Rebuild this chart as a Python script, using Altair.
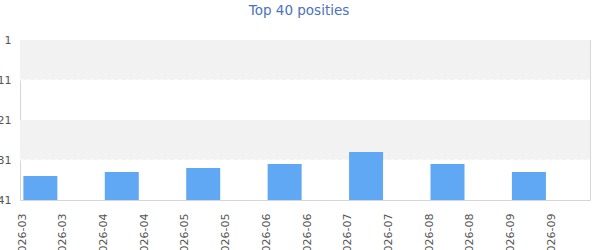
import altair as alt
import pandas as pd

# data
periods = ["2026-03", "2026-04", "2026-05", "2026-06", "2026-07", "2026-08", "2026-09"]
ranks = [35, 34, 33, 32, 29, 32, 34]
tick_labels = ["2026-03", "2026-03", "2026-04", "2026-04", "2026-05", "2026-05",
               "2026-06", "2026-06", "2026-07", "2026-07", "2026-08", "2026-08",
               "2026-09", "2026-09"]
y_ticks = [1, 11, 21, 31, 41]
band_starts = [1, 21]
band_ends = [11, 31]
dash_lines = [11, 31]

bars = pd.DataFrame({
    "period": periods,
    "rank": ranks,
    "pos": [2 * i + 0.5 for i in range(len(periods))],
    "base": [41] * len(periods),
})
bands = pd.DataFrame({"y": band_starts, "y2": band_ends})
dashes = pd.DataFrame({"y": dash_lines})
label_expr = "[" + ",".join(f"'{t}'" for t in tick_labels) + "][datum.value]"

xscale = alt.Scale(domain=[0, 14], nice=False, zero=False, padding=0)
yscale = alt.Scale(domain=[1, 41], reverse=True, nice=False, zero=False, padding=0)

yaxis = alt.Axis(values=y_ticks, title=None, grid=False, ticks=False, domain=False,
                 labelColor="#555555", labelFontSize=11, labelFont="DejaVu Sans",
                 labelPadding=9, labelOverlap=False, labelFlush=False, labelBound=False)

band_layer = alt.Chart(bands).mark_rect(color="#f2f2f2").encode(
    x=alt.value(0), x2=alt.value(570),
    y=alt.Y("y:Q", scale=yscale, axis=yaxis),
    y2="y2:Q",
)

dash_layer = alt.Chart(dashes).mark_rule(color="white", strokeDash=[4, 3], strokeWidth=1).encode(
    x=alt.value(0), x2=alt.value(570),
    y=alt.Y("y:Q", scale=yscale, axis=yaxis),
)

bar_layer = alt.Chart(bars).mark_bar(color="#60a8f4", width=34).encode(
    x=alt.X("pos:Q", scale=xscale,
            axis=alt.Axis(values=list(range(14)), labelExpr=label_expr, title=None,
                          grid=False, ticks=False, domain=False, labelAngle=270,
                          labelColor="#555555", labelFontSize=11, labelFont="DejaVu Sans",
                          labelPadding=13, labelOffset=2, labelOverlap=False, labelFlush=False)),
    y=alt.Y("rank:Q", scale=yscale, axis=yaxis),
    y2="base:Q",
    tooltip=["period", "rank"],
)

title_layer = alt.Chart(pd.DataFrame({"t": ["Top 40 posities"]})).mark_text(
    color="#4a72c0", fontSize=13.5, font="DejaVu Sans", baseline="middle"
).encode(x=alt.value(279), y=alt.value(-29), text="t:N")

chart = alt.layer(band_layer, dash_layer, bar_layer, title_layer).properties(
    width=570, height=160,
    autosize=alt.AutoSizeParams(type="none"),
    padding={"left": 20, "top": 40, "right": 10, "bottom": 50},
).configure_view(stroke="#d6d6d6", strokeWidth=1)

chart.save("out.html", embed_options={"renderer": "svg", "actions": False})
